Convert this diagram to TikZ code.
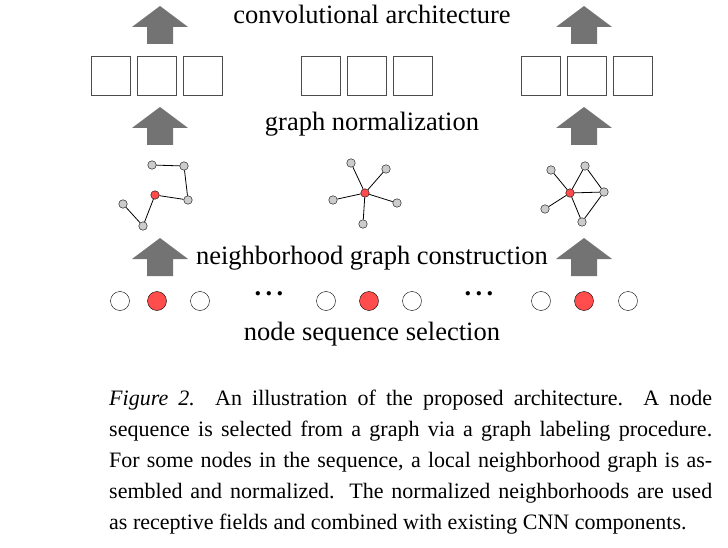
\documentclass[tikz,border=0pt]{standalone}
\usepackage{fontspec}
\setmainfont{Liberation Serif}
\begin{document}
\begin{tikzpicture}[x=1pt,y=-1pt,
                    vert/.style={circle, draw, fill=black!20, inner sep=0pt, minimum width=8.5pt},
                    root/.style={circle, draw, fill=red!70, inner sep=0pt, minimum width=8.5pt},
                    seq/.style={circle, draw, inner sep=0pt, minimum width=19pt},
                    seqr/.style={circle, draw, fill=red!70, inner sep=0pt, minimum width=19pt},
                    cell/.style={draw, black!70, inner sep=0pt, minimum width=39pt, minimum height=39pt},
                    lbl/.style={font=\fontsize{26.5}{29}\selectfont},
                    bigarrow/.pic={\fill[black!55] (-28,0) -- (0,-21) -- (28,0) -- (13,0) -- (13,17) -- (-13,17) -- (-13,0) -- cycle;}]
\useasboundingbox (0,0) rectangle (728,548);
% arrows
\pic at (160,27) {bigarrow};
\pic at (584,27) {bigarrow};
\pic at (160,128) {bigarrow};
\pic at (584,128) {bigarrow};
\pic at (160,259) {bigarrow};
\pic at (584,259) {bigarrow};
% labels
\node[lbl] (conv) at (372,14) {convolutional architecture};
\node[lbl] (norm) at (372,124) {graph normalization};
\node[lbl] (cons) at (372,258) {neighborhood graph construction};
\node[lbl] (sel) at (372,334) {node sequence selection};
% receptive fields
\foreach \x [count=\i] in {111,157,203,321,367,413,541,587,633}
  \node[cell] (c\i) at (\x,76) {};
% left neighborhood
\node[vert] (a1) at (152,165) {};
\node[vert] (a2) at (184,166) {};
\node[root] (a0) at (155,195) {};
\node[vert] (a3) at (188,200) {};
\node[vert] (a4) at (123,204) {};
\node[vert] (a5) at (143,226) {};
\draw[thick] (a1) -- (a2);
\draw[thick] (a2) -- (a3);
\draw[thick] (a0) -- (a3);
\draw[thick] (a0) -- (a5);
\draw[thick] (a5) -- (a4);
% middle neighborhood
\node[root] (b0) at (365,193) {};
\node[vert] (b1) at (351,163) {};
\node[vert] (b2) at (386,169) {};
\node[vert] (b3) at (333,200) {};
\node[vert] (b4) at (397,203) {};
\node[vert] (b5) at (363,224) {};
\foreach \i in {1,...,5}
  \draw[thick] (b0) -- (b\i);
% right neighborhood
\node[root] (r0) at (570,193) {};
\node[vert] (r1) at (551,170) {};
\node[vert] (r2) at (585,166) {};
\node[vert] (r3) at (604,192) {};
\node[vert] (r4) at (545,209) {};
\node[vert] (r5) at (582,222) {};
\foreach \i in {1,...,5}
  \draw[thick] (r0) -- (r\i);
\draw[thick] (r2) -- (r3);
\draw[thick] (r3) -- (r5);
% node sequence
\node[seq] (s1) at (120,301) {};
\node[seqr] (s2) at (157,301) {};
\node[seq] (s3) at (200,301) {};
\node[lbl] (d1) at (269,294) {\textbf{.\,.\,.}};
\node[seq] (s4) at (326,301) {};
\node[seqr] (s5) at (369,301) {};
\node[seq] (s6) at (412,301) {};
\node[lbl] (d2) at (479,294) {\textbf{.\,.\,.}};
\node[seq] (s7) at (541,301) {};
\node[seqr] (s8) at (584,301) {};
\node[seq] (s9) at (628,301) {};
% caption
\node[anchor=north west, text width=603pt, align=justify, inner sep=0pt,
      font=\fontsize{22}{31}\selectfont] (cap) at (109,390)
  {\textit{Figure 2.}\ \ An illustration of the proposed architecture.\ \ A node\linebreak
   sequence is selected from a graph via a graph labeling procedure.\linebreak
   For some nodes in the sequence, a local neighborhood graph is as-\linebreak
   sembled and normalized. The normalized neighborhoods are used\linebreak
   as receptive fields and combined with existing CNN components.};
\end{tikzpicture}
\end{document}
